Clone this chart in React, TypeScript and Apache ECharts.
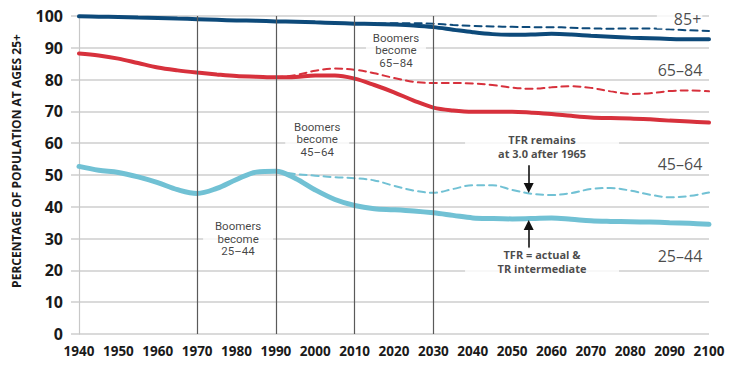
import React, { useEffect, useRef } from "react";
import * as echarts from "echarts";

// ---------- data ----------
const YEARS = [1940, 1945, 1950, 1955, 1960, 1965, 1970, 1975, 1980, 1985, 1990, 1995, 2000, 2005, 2010, 2015, 2020, 2025, 2030, 2035, 2040, 2045, 2050, 2055, 2060, 2065, 2070, 2075, 2080, 2085, 2090, 2095, 2100];
const YEARS_FROM_1990 = [1990, 1995, 2000, 2005, 2010, 2015, 2020, 2025, 2030, 2035, 2040, 2045, 2050, 2055, 2060, 2065, 2070, 2075, 2080, 2085, 2090, 2095, 2100];
const YEARS_FROM_2010 = [2010, 2015, 2020, 2025, 2030, 2035, 2040, 2045, 2050, 2055, 2060, 2065, 2070, 2075, 2080, 2085, 2090, 2095, 2100];

// boundary below 85+ (share under 85)
const UNDER85_ACTUAL = [99.9, 99.8, 99.7, 99.5, 99.4, 99.2, 99.0, 98.8, 98.6, 98.5, 98.3, 98.2, 98.0, 97.8, 97.6, 97.5, 97.3, 97.0, 96.5, 95.7, 94.9, 94.3, 94.1, 94.2, 94.4, 94.2, 93.8, 93.5, 93.2, 93.0, 92.8, 92.7, 92.7];
const UNDER85_TFR3 = [97.6, 97.6, 97.7, 97.7, 97.6, 97.2, 96.9, 96.7, 96.6, 96.5, 96.5, 96.3, 96.1, 96.0, 96.1, 96.1, 95.8, 95.5, 95.3];
// boundary below 65-84
const UNDER65_ACTUAL = [88.2, 87.6, 86.6, 85.2, 83.8, 82.9, 82.2, 81.6, 81.1, 80.9, 80.7, 80.8, 81.3, 81.3, 80.3, 78.3, 76.0, 73.4, 71.2, 70.3, 69.9, 69.9, 69.9, 69.6, 69.2, 68.6, 68.1, 67.9, 67.8, 67.5, 67.1, 66.8, 66.5];
const UNDER65_TFR3 = [80.7, 81.4, 82.8, 83.5, 83.1, 82.0, 80.5, 79.3, 78.9, 78.9, 78.8, 78.3, 77.5, 77.1, 77.6, 77.9, 77.4, 76.3, 75.5, 75.7, 76.4, 76.6, 76.3];
// boundary below 45-64
const UNDER45_ACTUAL = [52.7, 51.5, 50.8, 49.4, 47.6, 45.4, 44.2, 45.8, 48.6, 50.9, 51.2, 48.9, 45.3, 42.3, 40.4, 39.4, 39.1, 38.7, 38.1, 37.3, 36.5, 36.3, 36.2, 36.3, 36.5, 36.1, 35.6, 35.4, 35.3, 35.2, 35.0, 34.8, 34.5];
const UNDER45_TFR3 = [51.2, 50.3, 49.8, 49.3, 49.0, 48.3, 46.6, 45.1, 44.4, 45.6, 46.8, 46.8, 45.3, 44.1, 43.7, 44.3, 45.6, 45.9, 45.1, 43.8, 43.0, 43.4, 44.5];

const X_TICKS = [1940, 1950, 1960, 1970, 1980, 1990, 2000, 2010, 2020, 2030, 2040, 2050, 2060, 2070, 2080, 2090, 2100];
const Y_TICKS = [0, 10, 20, 30, 40, 50, 60, 70, 80, 90, 100];
const MARKER_YEARS = [1970, 1990, 2010, 2030];

const AGE_GROUP_LABELS = ["85+", "65–84", "45–64", "25–44"];
const BOOMER_LABELS = ["Boomers\nbecome\n25–44", "Boomers\nbecome\n45–64", "Boomers\nbecome\n65–84"];
const TFR_LABELS = ["TFR remains\nat 3.0 after 1965", "TFR = actual &\nTR intermediate"];
const Y_TITLE = "PERCENTAGE OF POPULATION AT AGES 25+";

// ---------- placement of annotations (data coordinates) ----------
const AGE_LABEL_POS = [[2098.3, 99.2], [2098.3, 82.9], [2098.3, 53.6], [2098.3, 24.5]];
const BOOMER_POS = [[1980.4, 29.9], [2000.5, 61.3], [2020.5, 89.3]];
const BOOMER_BOX_W = [70, 64, 60];
const TFR_POS = [[2057.6, 58.9], [2057.6, 22.8]];
const ARROW_X = 2054.2;
const ARROW_DOWN = [53.1, 45.9];
const ARROW_UP = [27.0, 34.3];

const DARK = "#0d4a7a";
const RED = "#d7313c";
const LIGHT = "#71c1d4";
const GRID = "#dadada";
const TEXT = "#1a1a1a";

const zip = (xs: number[], ys: number[]) => xs.map((x, i) => [x, ys[i]]);

function lineSeries(name: string, xs: number[], ys: number[], color: string, dashed: boolean, width: number, z: number) {
  return {
    name,
    type: "line",
    data: zip(xs, ys),
    smooth: 0.35,
    showSymbol: false,
    symbol: "none",
    silent: true,
    z,
    lineStyle: {
      color,
      width,
      type: dashed ? [7, 5] : "solid",
      cap: "round",
    },
  };
}

function textSeries(id: string, pos: number[], text: string, label: any, z = 6) {
  return {
    id,
    type: "scatter",
    data: [pos],
    symbolSize: 0,
    silent: true,
    z,
    label: { show: true, formatter: () => text, ...label },
  };
}

export default function App() {
  const ref = useRef<HTMLDivElement>(null);

  useEffect(() => {
    if (!ref.current) return;
    const chart = echarts.init(ref.current, undefined, { renderer: "svg" });

    const series: any[] = [
      lineSeries("45–64 TFR 3.0", YEARS_FROM_1990, UNDER45_TFR3, LIGHT, true, 2, 3),
      lineSeries("65–84 TFR 3.0", YEARS_FROM_1990, UNDER65_TFR3, RED, true, 2, 3),
      lineSeries("85+ TFR 3.0", YEARS_FROM_2010, UNDER85_TFR3, DARK, true, 2, 3),
      lineSeries("45–64 actual", YEARS, UNDER45_ACTUAL, LIGHT, false, 5, 4),
      lineSeries("65–84 actual", YEARS, UNDER65_ACTUAL, RED, false, 4, 4),
      lineSeries("85+ actual", YEARS, UNDER85_ACTUAL, DARK, false, 4, 4),
      {
        id: "markers",
        type: "line",
        data: [],
        silent: true,
        z: 2,
        markLine: {
          silent: true,
          symbol: ["none", "none"],
          label: { show: false },
          lineStyle: { color: "#5a5a5a", width: 1.2, type: "solid" },
          data: MARKER_YEARS.map((y) => [{ coord: [y, 100] }, { coord: [y, 0] }]),
        },
      },
      {
        id: "arrows",
        type: "line",
        data: [],
        silent: true,
        z: 7,
        markLine: {
          silent: true,
          symbol: ["none", "triangle"],
          symbolSize: 10,
          label: { show: false },
          lineStyle: { color: "#111", width: 1.6, type: "solid" },
          itemStyle: { color: "#111" },
          data: [
            [{ coord: [ARROW_X, ARROW_DOWN[0]] }, { coord: [ARROW_X, ARROW_DOWN[1]] }],
            [{ coord: [ARROW_X, ARROW_UP[0]] }, { coord: [ARROW_X, ARROW_UP[1]] }],
          ],
        },
      },
    ];

    AGE_GROUP_LABELS.forEach((t, i) => {
      series.push(
        textSeries("age" + i, AGE_LABEL_POS[i], t, {
          position: "left",
          distance: 0,
          fontFamily: "Open Sans",
          fontSize: 16,
          color: TEXT,
          lineHeight: 20,
          backgroundColor: i === 0 ? "#fff" : "transparent",
          padding: i === 0 ? [0, 1, 0, 17] : 0,
        })
      );
    });

    BOOMER_LABELS.forEach((t, i) => {
      series.push(
        textSeries("boom" + i, BOOMER_POS[i], t, {
          position: "inside",
          fontFamily: "Roboto",
          fontSize: 11.5,
          lineHeight: 12.5,
          color: "#111",
          width: BOOMER_BOX_W[i],
          align: "center",
          backgroundColor: "#fff",
          padding: [1, 0],
        })
      );
    });

    TFR_LABELS.forEach((t, i) => {
      series.push(
        textSeries("tfr" + i, TFR_POS[i], t, {
          position: "inside",
          fontFamily: "Open Sans",
          fontWeight: "bold",
          fontSize: 11,
          lineHeight: 14,
          color: TEXT,
          width: 154,
          align: "center",
          backgroundColor: "#fff",
          padding: [0, 0],
        })
      );
    });

    chart.setOption({
      animation: false,
      backgroundColor: "#fff",
      grid: { left: 79, right: 31, top: 16, bottom: 41, containLabel: false },
      xAxis: {
        type: "value",
        min: X_TICKS[0],
        max: X_TICKS[X_TICKS.length - 1],
        interval: 10,
        axisLine: { show: false },
        axisTick: { show: false },
        splitLine: { show: false },
        axisLabel: {
          margin: 10,
          fontFamily: "Open Sans",
          fontWeight: "bold",
          fontSize: 13.5,
          color: TEXT,
          showMinLabel: true,
          showMaxLabel: true,
          formatter: (v: number) => String(v),
        },
      },
      yAxis: {
        type: "value",
        min: Y_TICKS[0],
        max: Y_TICKS[Y_TICKS.length - 1],
        interval: 10,
        axisLine: { show: true, lineStyle: { color: "#c8c8c8", width: 1.2 } },
        axisTick: { show: true, length: 8, lineStyle: { color: GRID, width: 2 } },
        splitLine: { show: true, lineStyle: { color: GRID, width: 2 } },
        axisLabel: {
          margin: 16,
          fontFamily: "Open Sans",
          fontWeight: "bold",
          fontSize: 16,
          color: TEXT,
          formatter: (v: number) => String(v),
        },
      },
      graphic: [
        {
          type: "text",
          x: 16,
          y: 161,
          rotation: Math.PI / 2,
          silent: true,
          style: {
            text: Y_TITLE,
            fontFamily: "Open Sans",
            fontWeight: "bold",
            fontSize: 12,
            fill: TEXT,
            align: "center",
            verticalAlign: "middle",
          },
        },
      ],
      series,
    });

    return () => chart.dispose();
  }, []);

  return (
    <div
      ref={ref}
      style={{ position: "fixed", left: 0, top: 0, width: 740, height: 375, background: "#fff" }}
    />
  );
}
